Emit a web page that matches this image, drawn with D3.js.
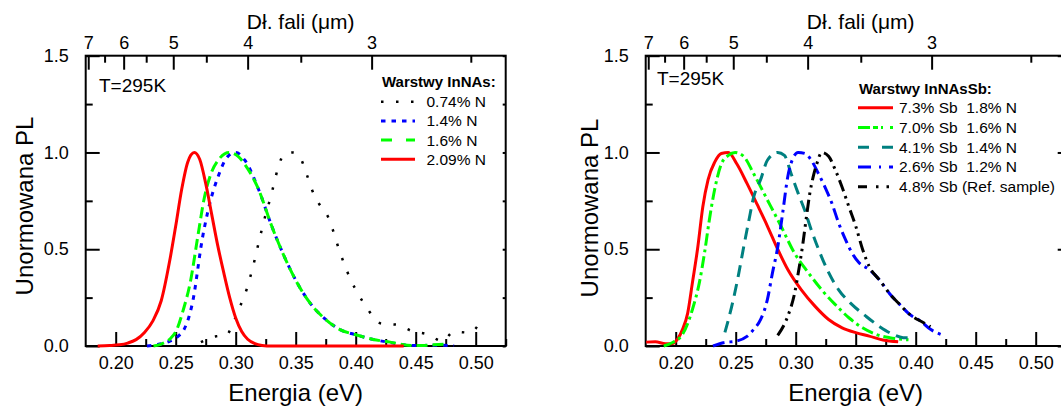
<!DOCTYPE html>
<html>
<head>
<meta charset="utf-8">
<script src="https://cdn.jsdelivr.net/npm/d3@7"></script>
<style>
  body { margin: 0; background: #fff; }
  svg { display: block; font-family: "Liberation Sans", Arial, sans-serif; }
  text { white-space: pre; }
</style>
</head>
<body>
<svg id="chart" width="1061" height="407"></svg>
<script>
// ---- Photoluminescence spectra, [energy eV, normalised PL] ----
// InNAs layers
const innas074 = [[0.271,0.020],[0.2837,0.050],[0.292,0.055],[0.2986,0.130],[0.304,0.210],[0.309,0.290],[0.3127,0.370],[0.316,0.450],[0.319,0.530],[0.3217,0.600],[0.325,0.680],[0.3287,0.760],[0.332,0.840],[0.3352,0.920],[0.3414,0.995],[0.348,1.000],[0.354,0.970],[0.359,0.890],[0.3634,0.810],[0.369,0.740],[0.3775,0.660],[0.382,0.580],[0.386,0.500],[0.3907,0.420],[0.396,0.340],[0.402,0.270],[0.410,0.190],[0.4217,0.115],[0.4344,0.110],[0.447,0.077],[0.460,0.060],[0.472,0.026],[0.482,0.074],[0.495,0.069],[0.5054,0.142]];
const innas14 = [[0.226,0.000],[0.235,0.008],[0.2456,0.026],[0.252,0.050],[0.257,0.086],[0.261,0.150],[0.2654,0.270],[0.268,0.380],[0.271,0.510],[0.2766,0.690],[0.285,0.870],[0.2935,0.980],[0.300,1.000],[0.3076,0.960],[0.319,0.810],[0.330,0.620],[0.341,0.455],[0.3527,0.310],[0.364,0.206],[0.375,0.137],[0.3865,0.086],[0.400,0.058],[0.4146,0.034],[0.4287,0.018],[0.440,0.006],[0.450,0.002],[0.465,0.004],[0.482,0.002]];
const innas16 = [[0.2315,0.000],[0.238,0.010],[0.245,0.035],[0.251,0.086],[0.256,0.180],[0.2625,0.340],[0.268,0.550],[0.274,0.770],[0.280,0.900],[0.286,0.965],[0.2945,1.000],[0.302,0.980],[0.308,0.935],[0.319,0.810],[0.330,0.620],[0.341,0.455],[0.3527,0.310],[0.364,0.206],[0.375,0.137],[0.3865,0.086],[0.400,0.058],[0.4146,0.034],[0.4287,0.020],[0.443,0.004],[0.455,0.002],[0.465,0.006],[0.474,0.010]];
const innas209 = [[0.185,0.000],[0.195,0.002],[0.203,0.006],[0.210,0.015],[0.217,0.033],[0.224,0.070],[0.231,0.130],[0.238,0.235],[0.245,0.440],[0.250,0.620],[0.255,0.810],[0.260,0.950],[0.2655,1.000],[0.270,0.965],[0.275,0.840],[0.280,0.680],[0.285,0.520],[0.290,0.380],[0.295,0.250],[0.300,0.145],[0.305,0.075],[0.310,0.035],[0.316,0.012],[0.322,0.003],[0.330,0.000],[0.360,0.000],[0.400,0.000],[0.440,0.000]];

// InNAsSb layers
const sb73 = [[0.1754,0.020],[0.183,0.022],[0.1915,0.012],[0.197,0.012],[0.2014,0.034],[0.2057,0.086],[0.210,0.170],[0.214,0.330],[0.2184,0.510],[0.2226,0.720],[0.227,0.860],[0.2325,0.950],[0.238,0.995],[0.2439,1.000],[0.251,0.940],[0.2594,0.840],[0.268,0.730],[0.2764,0.620],[0.285,0.500],[0.2934,0.395],[0.3047,0.290],[0.316,0.206],[0.3274,0.137],[0.3387,0.094],[0.350,0.069],[0.3613,0.051],[0.3727,0.031],[0.3854,0.022]];
const sb70 = [[0.190,0.000],[0.197,0.017],[0.2057,0.060],[0.214,0.190],[0.2198,0.330],[0.224,0.480],[0.228,0.650],[0.2325,0.810],[0.238,0.940],[0.2439,0.985],[0.2495,1.000],[0.2566,0.980],[0.265,0.890],[0.2764,0.755],[0.2877,0.620],[0.299,0.480],[0.3104,0.380],[0.3217,0.290],[0.333,0.214],[0.3443,0.146],[0.3557,0.094],[0.367,0.060],[0.3783,0.043],[0.3896,0.034],[0.394,0.032]];
const sb41 = [[0.241,0.070],[0.2445,0.150],[0.248,0.240],[0.2524,0.370],[0.2566,0.510],[0.261,0.650],[0.265,0.770],[0.2708,0.860],[0.2764,0.960],[0.285,1.000],[0.2906,0.985],[0.2962,0.890],[0.302,0.790],[0.3076,0.700],[0.313,0.600],[0.319,0.500],[0.3274,0.380],[0.3358,0.290],[0.347,0.214],[0.3585,0.154],[0.370,0.100],[0.381,0.060],[0.3896,0.043],[0.398,0.043]];
const sb26 = [[0.2311,0.000],[0.2396,0.017],[0.251,0.026],[0.2594,0.050],[0.265,0.086],[0.2708,0.137],[0.2764,0.240],[0.2807,0.380],[0.285,0.510],[0.2892,0.690],[0.2934,0.875],[0.2977,0.970],[0.302,1.000],[0.3076,0.995],[0.313,0.960],[0.319,0.890],[0.3245,0.820],[0.330,0.740],[0.3358,0.635],[0.3415,0.550],[0.347,0.480],[0.3528,0.430],[0.3613,0.395],[0.370,0.340],[0.3783,0.270],[0.3868,0.214],[0.395,0.163],[0.4038,0.130],[0.4123,0.086],[0.4208,0.060]];
const sb48ref = [[0.285,0.055],[0.2934,0.154],[0.299,0.270],[0.303,0.410],[0.306,0.530],[0.309,0.670],[0.3118,0.790],[0.3146,0.875],[0.3175,0.940],[0.3217,1.000],[0.3274,0.980],[0.333,0.910],[0.3387,0.820],[0.3443,0.720],[0.350,0.620],[0.3557,0.500],[0.3613,0.410],[0.370,0.340],[0.3783,0.270],[0.3868,0.214],[0.395,0.163],[0.4066,0.120],[0.4123,0.100]];

// ---- Axis ticks ----
const energyMajor = [0.20, 0.25, 0.30, 0.35, 0.40, 0.45, 0.50];
const energyMinor = [0.225, 0.275, 0.325, 0.375, 0.425, 0.475, 0.525];
const plMajor = [0, 0.5, 1.0, 1.5];
const plMinor = [0.25, 0.75, 1.25];
const waveMajor = [7, 6, 5, 4, 3];
const waveMinor = [6.5, 5.5, 4.5, 3.5, 2.5];

const HC = 1.2398; // photon energy (eV) times wavelength (µm)

// ---- Layout ----
const plotTop = 55.7, plotBottom = 346, plotWidth = 420;
const eDomain = [0.175, 0.525];

const panels = [
  {
    id: "a", left: 85.7,
    temp: { x: 99, y: 92 },
    yTitle: { x: 33, y: 206 },
    topTitleY: 28.5,
    rightTicks: plMajor.concat(plMinor), rightTick: 3,
    legend: { title: "Warstwy InNAs:", x: 382, titleY: 86.5, y0: 101.7, step: 19.2, sample: 34, textX: 426.5 },
    series: [
      { label: "0.74% N", data: innas074, color: "#000", width: 2.5, dash: "2.5,12.5" },
      { label: "1.4% N",  data: innas14,  color: "#0000ff", width: 3, dash: "4.5,6" },
      { label: "1.6% N",  data: innas16,  color: "#00ff00", width: 3, dash: "11,5", legendDash: "11,14" },
      { label: "2.09% N", data: innas209, color: "#ff0000", width: 3, dash: null }
    ]
  },
  {
    id: "b", left: 645.7,
    temp: { x: 657, y: 85 },
    yTitle: { x: 598, y: 208 },
    topTitleY: 28.5,
    rightTicks: plMajor, rightTick: 8,
    legend: { title: "Warstwy InNAsSb:", x: 859, titleY: 94, y0: 107.7, step: 19.75, sample: 35, textX: 899 },
    series: [
      { label: "7.3% Sb  1.8% N", data: sb73, color: "#ff0000", width: 3, dash: null },
      { label: "7.0% Sb  1.6% N", data: sb70, color: "#00ff00", width: 3, dash: "12,4,3,4", legendDash: "12,3,5,3,2,7,3" },
      { label: "4.1% Sb  1.4% N", data: sb41, color: "#008080", width: 3, dash: "12,7", legendDash: "11,13" },
      { label: "2.6% Sb  1.2% N", data: sb26, color: "#0000ff", width: 3, dash: "12,5,3,5", legendDash: "13,8,2,8" },
      { label: "4.8% Sb (Ref. sample)", data: sb48ref, color: "#000", width: 3, dash: "12,5,2.5,5,2.5,5", legendDash: "9,9,2.5,8,2.5,8" }
    ]
  }
];

const svg = d3.select("#chart");
svg.append("rect").attr("width", 1061).attr("height", 407).attr("fill", "#fff");

function styleAxis(sel, fontSize) {
  sel.attr("font-family", null).attr("font-size", fontSize);
  sel.select(".domain").remove();
  sel.selectAll(".tick line").attr("stroke", "#000").attr("stroke-width", 2);
  sel.selectAll(".tick text").attr("fill", "#000");
}

function drawPanel(p) {
  const x = d3.scaleLinear().domain(eDomain).range([p.left, p.left + plotWidth]);
  const y = d3.scaleLinear().domain([0, 1.5]).range([plotBottom, plotTop]);
  const right = p.left + plotWidth;
  const g = svg.append("g");

  // frame
  g.append("rect")
    .attr("x", p.left).attr("y", plotTop)
    .attr("width", plotWidth).attr("height", plotBottom - plotTop)
    .attr("fill", "none").attr("stroke", "#000").attr("stroke-width", 2);

  // bottom energy axis
  g.append("g").attr("transform", `translate(0,${plotBottom})`)
    .call(d3.axisBottom(x).tickValues(energyMajor).tickFormat(d3.format(".2f")).tickSize(-14).tickPadding(10))
    .call(s => styleAxis(s, 18));
  g.append("g").attr("transform", `translate(0,${plotBottom})`)
    .call(d3.axisBottom(x).tickValues(energyMinor).tickFormat("").tickSize(-7))
    .call(s => styleAxis(s, 18));

  // top wavelength axis
  g.append("g").attr("transform", `translate(0,${plotTop})`)
    .call(d3.axisTop(x).tickValues(waveMajor.map(l => HC / l))
      .tickFormat(e => d3.format("d")(Math.round(HC / e))).tickSize(-14).tickPadding(6.6))
    .call(s => styleAxis(s, 18));
  g.append("g").attr("transform", `translate(0,${plotTop})`)
    .call(d3.axisTop(x).tickValues(waveMinor.map(l => HC / l)).tickFormat("").tickSize(-7))
    .call(s => styleAxis(s, 18));

  // left PL axis
  g.append("g").attr("transform", `translate(${p.left},0)`)
    .call(d3.axisLeft(y).tickValues(plMajor).tickFormat(d3.format(".1f")).tickSize(-14).tickPadding(17))
    .call(s => styleAxis(s, 18));
  g.append("g").attr("transform", `translate(${p.left},0)`)
    .call(d3.axisLeft(y).tickValues(plMinor).tickFormat("").tickSize(-7))
    .call(s => styleAxis(s, 18));

  // right PL axis (ticks only)
  g.append("g").attr("transform", `translate(${right},0)`)
    .call(d3.axisRight(y).tickValues(p.rightTicks).tickFormat("").tickSize(-p.rightTick))
    .call(s => styleAxis(s, 18));

  // spectra
  const clipId = "clip-" + p.id;
  svg.append("clipPath").attr("id", clipId).append("rect")
    .attr("x", p.left).attr("y", plotTop - 4)
    .attr("width", plotWidth).attr("height", plotBottom - plotTop + 8);
  const line = d3.line().x(d => x(d[0])).y(d => y(d[1])).curve(d3.curveMonotoneX);
  g.append("g").attr("clip-path", `url(#${clipId})`)
    .selectAll("path").data(p.series).join("path")
    .attr("d", s => line(s.data))
    .attr("fill", "none")
    .attr("stroke", s => s.color)
    .attr("stroke-width", s => s.width)
    .attr("stroke-dasharray", s => s.dash)
    .attr("stroke-linejoin", "round");

  // axis titles
  g.append("text")
    .attr("x", (p.left + right) / 2).attr("y", 401)
    .attr("text-anchor", "middle").attr("font-size", 24)
    .text("Energia (eV)");
  g.append("text")
    .attr("x", (p.left + right) / 2 + 5).attr("y", p.topTitleY)
    .attr("text-anchor", "middle").attr("font-size", 21)
    .text("Dł. fali (μm)");
  g.append("text")
    .attr("transform", `translate(${p.yTitle.x},${p.yTitle.y}) rotate(-90)`)
    .attr("text-anchor", "middle").attr("font-size", 24)
    .text("Unormowana PL");

  // temperature note
  g.append("text")
    .attr("x", p.temp.x).attr("y", p.temp.y)
    .attr("font-size", 19)
    .text("T=295K");

  // legend
  const L = p.legend;
  g.append("text")
    .attr("x", L.x).attr("y", L.titleY)
    .attr("font-size", 15).attr("font-weight", "bold")
    .text(L.title);
  const items = g.append("g").selectAll("g").data(p.series).join("g")
    .attr("transform", (s, i) => `translate(0,${L.y0 + i * L.step})`);
  items.append("line")
    .attr("x1", L.x - 1).attr("x2", L.x - 1 + L.sample)
    .attr("y1", 0).attr("y2", 0)
    .attr("stroke", s => s.color)
    .attr("stroke-width", s => s.width)
    .attr("stroke-dasharray", s => s.legendDash || s.dash);
  items.append("text")
    .attr("x", L.textX).attr("y", 5.5)
    .attr("font-size", 15.5)
    .attr("xml:space", "preserve")
    .text(s => s.label);
}

panels.forEach(drawPanel);
</script>
</body>
</html>
